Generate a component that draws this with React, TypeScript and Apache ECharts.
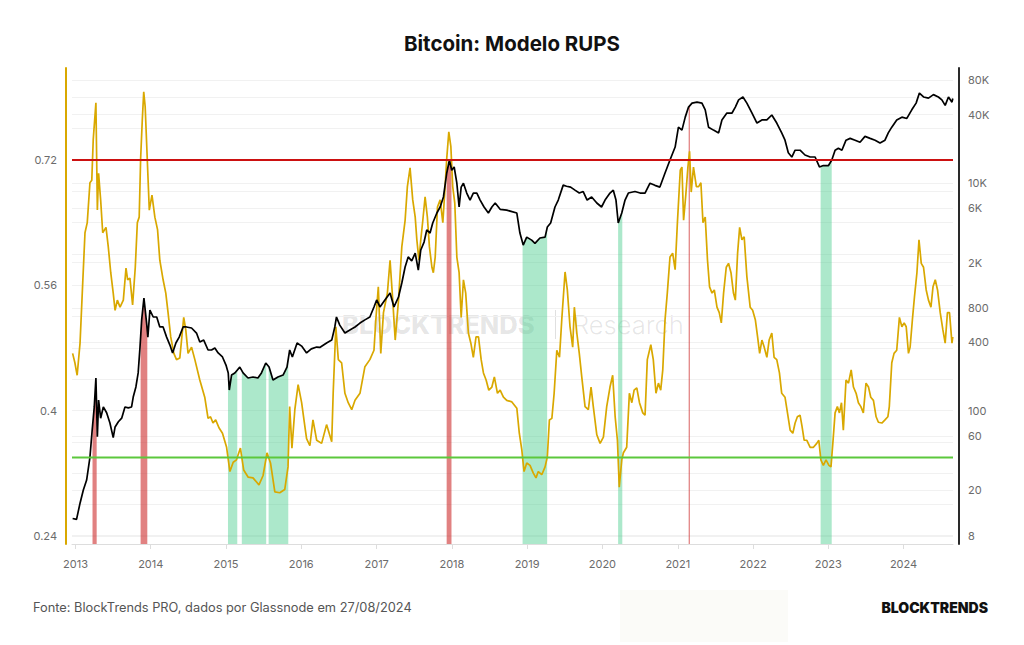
import React, { useEffect, useRef } from 'react';
import * as echarts from 'echarts';

type Point = [string, number];

// RUPS ratio (left axis)
const rupsSeries: Point[] = [
  ['2012-12-18', 0.473], ['2012-12-29', 0.461], ['2013-01-09', 0.445], ['2013-01-23', 0.486],
  ['2013-02-05', 0.563], ['2013-02-16', 0.627], ['2013-02-27', 0.64], ['2013-03-12', 0.691],
  ['2013-03-21', 0.694], ['2013-03-28', 0.746], ['2013-04-10', 0.793], ['2013-04-17', 0.656],
  ['2013-04-23', 0.703], ['2013-05-03', 0.669], ['2013-05-13', 0.627], ['2013-05-29', 0.634],
  ['2013-06-09', 0.609], ['2013-06-21', 0.576], ['2013-07-03', 0.55], ['2013-07-12', 0.528],
  ['2013-07-23', 0.541], ['2013-08-05', 0.532], ['2013-08-21', 0.541], ['2013-09-03', 0.582],
  ['2013-09-11', 0.567], ['2013-09-22', 0.569], ['2013-10-05', 0.535], ['2013-10-18', 0.583],
  ['2013-10-28', 0.64], ['2013-11-06', 0.647], ['2013-11-13', 0.722], ['2013-11-21', 0.771],
  ['2013-11-28', 0.807], ['2013-12-05', 0.788], ['2013-12-15', 0.722], ['2013-12-25', 0.656],
  ['2014-01-07', 0.675], ['2014-01-21', 0.647], ['2014-02-03', 0.631], ['2014-02-14', 0.592],
  ['2014-03-02', 0.567], ['2014-03-15', 0.55], ['2014-03-26', 0.525], ['2014-04-08', 0.494],
  ['2014-04-23', 0.473], ['2014-05-06', 0.465], ['2014-05-22', 0.467], ['2014-06-10', 0.519],
  ['2014-06-20', 0.503], ['2014-07-01', 0.473], ['2014-07-18', 0.481], ['2014-08-03', 0.465],
  ['2014-08-27', 0.439], ['2014-09-20', 0.417], ['2014-10-06', 0.39], ['2014-10-18', 0.392],
  ['2014-10-30', 0.384], ['2014-11-12', 0.388], ['2014-11-28', 0.378], ['2014-12-15', 0.371],
  ['2015-01-04', 0.353], ['2015-01-20', 0.322], ['2015-02-05', 0.334], ['2015-02-21', 0.337],
  ['2015-03-12', 0.352], ['2015-03-28', 0.324], ['2015-04-18', 0.315], ['2015-05-12', 0.314],
  ['2015-06-10', 0.305], ['2015-06-30', 0.317], ['2015-07-19', 0.346], ['2015-08-05', 0.333],
  ['2015-08-26', 0.296], ['2015-09-19', 0.295], ['2015-10-13', 0.299], ['2015-10-29', 0.328],
  ['2015-11-06', 0.405], ['2015-11-17', 0.352], ['2015-12-01', 0.401], ['2015-12-17', 0.433],
  ['2016-01-03', 0.41], ['2016-01-19', 0.379], ['2016-01-27', 0.364], ['2016-02-12', 0.355],
  ['2016-02-27', 0.388], ['2016-03-16', 0.362], ['2016-04-09', 0.358], ['2016-05-03', 0.382],
  ['2016-05-28', 0.36], ['2016-06-04', 0.422], ['2016-06-17', 0.507], ['2016-06-29', 0.465],
  ['2016-07-15', 0.461], ['2016-07-31', 0.422], ['2016-08-16', 0.41], ['2016-09-02', 0.401],
  ['2016-09-18', 0.413], ['2016-10-12', 0.422], ['2016-11-05', 0.456], ['2016-11-29', 0.465],
  ['2016-12-19', 0.477], ['2016-12-28', 0.516],
  ['2017-01-09', 0.558], ['2017-01-21', 0.473], ['2017-02-03', 0.525], ['2017-02-22', 0.55],
  ['2017-03-07', 0.592], ['2017-03-20', 0.541], ['2017-04-01', 0.49], ['2017-04-17', 0.541],
  ['2017-05-03', 0.609], ['2017-05-19', 0.643], ['2017-05-30', 0.686], ['2017-06-12', 0.71],
  ['2017-06-25', 0.669], ['2017-07-07', 0.647], ['2017-07-15', 0.618], ['2017-07-25', 0.592],
  ['2017-08-03', 0.618], ['2017-08-13', 0.643], ['2017-08-24', 0.673], ['2017-09-04', 0.647],
  ['2017-09-14', 0.609], ['2017-09-26', 0.583], ['2017-10-03', 0.576], ['2017-10-12', 0.596],
  ['2017-10-23', 0.66], ['2017-11-05', 0.669], ['2017-11-18', 0.64], ['2017-11-29', 0.686],
  ['2017-12-07', 0.722], ['2017-12-17', 0.756], ['2017-12-27', 0.737],
  ['2018-01-05', 0.686], ['2018-01-15', 0.665], ['2018-01-25', 0.596], ['2018-02-05', 0.576],
  ['2018-02-15', 0.519], ['2018-02-26', 0.567], ['2018-03-09', 0.55], ['2018-03-22', 0.499],
  ['2018-04-03', 0.486], ['2018-04-15', 0.468], ['2018-04-28', 0.494], ['2018-05-10', 0.494],
  ['2018-05-23', 0.465], ['2018-06-03', 0.448], ['2018-06-16', 0.439], ['2018-06-29', 0.426],
  ['2018-07-14', 0.43], ['2018-07-26', 0.443], ['2018-08-10', 0.422], ['2018-08-23', 0.426],
  ['2018-09-08', 0.417], ['2018-09-24', 0.413], ['2018-10-19', 0.411], ['2018-11-12', 0.403],
  ['2018-11-24', 0.371], ['2018-12-06', 0.35], ['2018-12-17', 0.322], ['2018-12-30', 0.333],
  ['2019-01-15', 0.33], ['2019-01-31', 0.32], ['2019-02-13', 0.314], ['2019-02-24', 0.322],
  ['2019-03-13', 0.318], ['2019-03-29', 0.328], ['2019-04-09', 0.341], ['2019-04-19', 0.388],
  ['2019-05-01', 0.39], ['2019-05-12', 0.422], ['2019-05-25', 0.477], ['2019-06-07', 0.468],
  ['2019-06-18', 0.516], ['2019-07-04', 0.577], ['2019-07-15', 0.554], ['2019-07-28', 0.507],
  ['2019-08-10', 0.481], ['2019-08-18', 0.532], ['2019-08-30', 0.499], ['2019-09-11', 0.473],
  ['2019-09-23', 0.443], ['2019-10-09', 0.405], ['2019-10-25', 0.401], ['2019-11-07', 0.43],
  ['2019-11-18', 0.405], ['2019-12-05', 0.369], ['2019-12-21', 0.358],
  ['2020-01-06', 0.366], ['2020-01-22', 0.405], ['2020-02-07', 0.43], ['2020-02-20', 0.445],
  ['2020-03-03', 0.392], ['2020-03-14', 0.362], ['2020-03-23', 0.302], ['2020-04-04', 0.337],
  ['2020-04-12', 0.346], ['2020-04-28', 0.353], ['2020-05-11', 0.422], ['2020-05-23', 0.41],
  ['2020-06-03', 0.426], ['2020-06-16', 0.429], ['2020-06-29', 0.41], ['2020-07-15', 0.397],
  ['2020-07-26', 0.394], ['2020-08-06', 0.465], ['2020-08-23', 0.484], ['2020-09-04', 0.465],
  ['2020-09-17', 0.422], ['2020-09-29', 0.435], ['2020-10-10', 0.426], ['2020-10-20', 0.452],
  ['2020-10-31', 0.516], ['2020-11-11', 0.55], ['2020-11-24', 0.596], ['2020-12-07', 0.601],
  ['2020-12-19', 0.58], ['2020-12-30', 0.64],
  ['2021-01-13', 0.707], ['2021-01-21', 0.711], ['2021-01-29', 0.643], ['2021-02-08', 0.673],
  ['2021-02-19', 0.711], ['2021-02-27', 0.731], ['2021-03-07', 0.679], ['2021-03-18', 0.711],
  ['2021-04-01', 0.686], ['2021-04-12', 0.686], ['2021-04-23', 0.691], ['2021-05-03', 0.64],
  ['2021-05-14', 0.647], ['2021-05-25', 0.592], ['2021-06-04', 0.558], ['2021-06-16', 0.55],
  ['2021-06-27', 0.554], ['2021-07-10', 0.532], ['2021-07-21', 0.525], ['2021-07-31', 0.512],
  ['2021-08-11', 0.55], ['2021-08-24', 0.583], ['2021-09-04', 0.588], ['2021-09-16', 0.576],
  ['2021-09-28', 0.55], ['2021-10-07', 0.541], ['2021-10-18', 0.601], ['2021-10-28', 0.634],
  ['2021-11-08', 0.618], ['2021-11-19', 0.622], ['2021-12-02', 0.571], ['2021-12-18', 0.532],
  ['2021-12-30', 0.528],
  ['2022-01-12', 0.516], ['2022-01-23', 0.494], ['2022-02-02', 0.473], ['2022-02-13', 0.49],
  ['2022-02-24', 0.481], ['2022-03-09', 0.468], ['2022-03-20', 0.49], ['2022-04-02', 0.499],
  ['2022-04-13', 0.468], ['2022-04-26', 0.465], ['2022-05-09', 0.448], ['2022-05-20', 0.422],
  ['2022-06-05', 0.417], ['2022-06-17', 0.397], ['2022-06-30', 0.375], ['2022-07-13', 0.371],
  ['2022-07-24', 0.384], ['2022-08-04', 0.392], ['2022-08-17', 0.394], ['2022-08-27', 0.379],
  ['2022-09-06', 0.362], ['2022-09-19', 0.362], ['2022-10-05', 0.353], ['2022-10-21', 0.353],
  ['2022-11-06', 0.358], ['2022-11-16', 0.362], ['2022-11-26', 0.337], ['2022-12-08', 0.33],
  ['2022-12-21', 0.337],
  ['2023-01-04', 0.33], ['2023-01-14', 0.328], ['2023-01-23', 0.358], ['2023-02-03', 0.397],
  ['2023-02-14', 0.405], ['2023-02-24', 0.397], ['2023-03-06', 0.41], ['2023-03-15', 0.375],
  ['2023-03-28', 0.439], ['2023-04-09', 0.435], ['2023-04-22', 0.452], ['2023-05-03', 0.43],
  ['2023-05-16', 0.422], ['2023-05-27', 0.41], ['2023-06-08', 0.405], ['2023-06-20', 0.397],
  ['2023-07-03', 0.435], ['2023-07-15', 0.43], ['2023-07-26', 0.417], ['2023-08-08', 0.413],
  ['2023-08-21', 0.392], ['2023-09-01', 0.385], ['2023-09-18', 0.384], ['2023-10-03', 0.388],
  ['2023-10-17', 0.392], ['2023-10-24', 0.405], ['2023-11-05', 0.461], ['2023-11-16', 0.473],
  ['2023-11-29', 0.477], ['2023-12-12', 0.519], ['2023-12-24', 0.507],
  ['2024-01-04', 0.512], ['2024-01-14', 0.507], ['2024-01-25', 0.473], ['2024-02-02', 0.481],
  ['2024-02-13', 0.516], ['2024-02-23', 0.545], ['2024-03-06', 0.576], ['2024-03-16', 0.618],
  ['2024-03-27', 0.588], ['2024-04-07', 0.583], ['2024-04-20', 0.554], ['2024-05-01', 0.541],
  ['2024-05-13', 0.532], ['2024-05-23', 0.558], ['2024-06-03', 0.567], ['2024-06-14', 0.554],
  ['2024-06-27', 0.525], ['2024-07-10', 0.503], ['2024-07-21', 0.486], ['2024-08-01', 0.525],
  ['2024-08-11', 0.525], ['2024-08-23', 0.486], ['2024-08-27', 0.494],
];

// BTC price in USD (right axis, log scale)
const priceSeries: Point[] = [
  ['2012-12-18', 11.3], ['2013-01-06', 11.1], ['2013-01-23', 15.4], ['2013-02-08', 20.1],
  ['2013-02-24', 24.6], ['2013-03-12', 39], ['2013-03-23', 68], ['2013-04-02', 108],
  ['2013-04-10', 194], ['2013-04-17', 59], ['2013-04-23', 124], ['2013-05-03', 86],
  ['2013-05-16', 108], ['2013-06-01', 96], ['2013-06-17', 78], ['2013-07-03', 58],
  ['2013-07-12', 72], ['2013-07-28', 80], ['2013-08-13', 86], ['2013-08-29', 108],
  ['2013-09-14', 106], ['2013-09-30', 108], ['2013-10-08', 132], ['2013-10-21', 162],
  ['2013-11-01', 215], ['2013-11-10', 364], ['2013-11-18', 629], ['2013-11-29', 980],
  ['2013-12-12', 590], ['2013-12-18', 444], ['2013-12-28', 768],
  ['2014-01-13', 667], ['2014-01-30', 667], ['2014-02-14', 545], ['2014-03-02', 545],
  ['2014-03-19', 444], ['2014-04-04', 378], ['2014-04-17', 322], ['2014-05-03', 394],
  ['2014-05-19', 444], ['2014-06-07', 545], ['2014-06-23', 545], ['2014-07-18', 534],
  ['2014-08-11', 482], ['2014-08-27', 402], ['2014-09-15', 418], ['2014-10-06', 342],
  ['2014-10-23', 342], ['2014-11-08', 356], ['2014-11-24', 322], ['2014-12-15', 297],
  ['2015-01-01', 252], ['2015-01-12', 215], ['2015-01-17', 152], ['2015-01-28', 206],
  ['2015-02-13', 215], ['2015-03-09', 242], ['2015-03-25', 215], ['2015-04-18', 194],
  ['2015-05-12', 198], ['2015-06-05', 194], ['2015-06-22', 215], ['2015-07-13', 263],
  ['2015-07-29', 242], ['2015-08-17', 186], ['2015-09-10', 198], ['2015-10-05', 206],
  ['2015-10-24', 242], ['2015-11-06', 342], ['2015-11-19', 297], ['2015-12-12', 394],
  ['2016-01-03', 370], ['2016-01-27', 322], ['2016-02-19', 350], ['2016-03-16', 363],
  ['2016-03-31', 360], ['2016-05-03', 394], ['2016-05-28', 418], ['2016-06-12', 545],
  ['2016-06-20', 667], ['2016-07-06', 566], ['2016-07-31', 482], ['2016-08-24', 513],
  ['2016-09-18', 545], ['2016-10-12', 590], ['2016-11-05', 629], ['2016-11-29', 667],
  ['2016-12-19', 817],
  ['2017-01-01', 942], ['2017-01-17', 817], ['2017-02-10', 942], ['2017-03-07', 1085],
  ['2017-03-26', 817], ['2017-04-17', 1000], ['2017-05-03', 1327], ['2017-05-19', 1835],
  ['2017-06-03', 2250], ['2017-06-20', 2075], ['2017-07-07', 2430], ['2017-07-22', 1720],
  ['2017-08-03', 2590], ['2017-08-19', 3040], ['2017-09-01', 3880], ['2017-09-17', 3650],
  ['2017-09-30', 4470], ['2017-10-20', 5470], ['2017-11-05', 6180], ['2017-11-21', 7570],
  ['2017-12-07', 12300], ['2017-12-20', 16000], ['2017-12-31', 13000],
  ['2018-01-12', 13900], ['2018-01-25', 10000], ['2018-02-05', 6180], ['2018-02-15', 9250],
  ['2018-02-26', 10000], ['2018-03-14', 8200], ['2018-03-30', 7110], ['2018-04-15', 8200],
  ['2018-05-02', 8200], ['2018-05-18', 7110], ['2018-06-06', 6180], ['2018-06-27', 5470],
  ['2018-07-14', 6180], ['2018-07-30', 6700], ['2018-08-23', 5900], ['2018-09-24', 5800],
  ['2018-11-12', 5470], ['2018-11-27', 3650], ['2018-12-13', 2860], ['2018-12-30', 3360],
  ['2019-01-23', 3160], ['2019-02-08', 2960], ['2019-03-04', 3300], ['2019-03-29', 3360],
  ['2019-04-09', 4120], ['2019-04-25', 4470], ['2019-05-16', 6180], ['2019-06-01', 7110],
  ['2019-06-25', 9620], ['2019-07-11', 9400], ['2019-07-31', 9250], ['2019-08-21', 8690],
  ['2019-09-11', 8200], ['2019-09-30', 8450], ['2019-10-19', 7110], ['2019-11-10', 7570],
  ['2019-12-05', 6700], ['2019-12-28', 6180],
  ['2020-01-14', 7110], ['2020-02-07', 8200], ['2020-02-23', 8690], ['2020-03-07', 7110],
  ['2020-03-18', 4470], ['2020-04-04', 5470], ['2020-04-20', 7110], ['2020-05-06', 8200],
  ['2020-06-07', 8450], ['2020-07-02', 8200], ['2020-07-26', 8200], ['2020-08-19', 10000],
  ['2020-09-12', 9580], ['2020-10-06', 9250], ['2020-10-31', 12300], ['2020-11-24', 16000],
  ['2020-12-19', 20800],
  ['2021-01-04', 31100], ['2021-01-21', 29300], ['2021-02-06', 38100], ['2021-02-22', 46700],
  ['2021-03-11', 50600], ['2021-04-04', 51600], ['2021-04-28', 50600], ['2021-05-14', 44200],
  ['2021-05-30', 31100], ['2021-06-23', 29300], ['2021-07-18', 27700], ['2021-08-03', 36000],
  ['2021-08-27', 41400], ['2021-09-21', 41400], ['2021-10-07', 46700], ['2021-10-23', 54000],
  ['2021-11-13', 57300], ['2021-12-02', 50600], ['2021-12-27', 41400],
  ['2022-01-20', 33800], ['2022-02-13', 36000], ['2022-03-09', 36000], ['2022-04-02', 39800],
  ['2022-04-26', 33800], ['2022-05-20', 27700], ['2022-06-05', 23900], ['2022-06-21', 18500],
  ['2022-07-08', 17000], ['2022-07-24', 19500], ['2022-08-17', 19500], ['2022-09-10', 17700],
  ['2022-10-05', 17000], ['2022-10-29', 17000], ['2022-11-19', 13900], ['2022-12-08', 14300],
  ['2023-01-02', 14300], ['2023-01-18', 16000], ['2023-02-03', 19500], ['2023-02-19', 20300],
  ['2023-03-08', 19500], ['2023-03-28', 23900], ['2023-04-17', 24800], ['2023-05-11', 23900],
  ['2023-06-04', 22900], ['2023-06-28', 25800], ['2023-07-23', 24800], ['2023-08-16', 23900],
  ['2023-09-09', 22600], ['2023-10-03', 23900], ['2023-10-19', 27700], ['2023-11-05', 31100],
  ['2023-11-29', 36000], ['2023-12-24', 38100],
  ['2024-01-17', 37100], ['2024-02-10', 44200], ['2024-03-02', 50600], ['2024-03-18', 62000],
  ['2024-04-07', 57300], ['2024-05-01', 56000], ['2024-05-25', 60100], ['2024-06-18', 57300],
  ['2024-07-05', 54000], ['2024-07-21', 48300], ['2024-08-06', 57300], ['2024-08-23', 51600],
  ['2024-08-27', 55500],
];

// Signal levels for the ratio
const RED_LEVEL = 0.72;
const GREEN_LEVEL = 0.34;

const X_START = '2012-12-15';
const X_END = '2024-08-28';

const yearTicks = [
  '2013-01-01', '2014-01-01', '2015-01-01', '2016-01-01', '2017-01-01', '2018-01-01',
  '2019-01-01', '2020-01-01', '2021-01-01', '2022-01-01', '2023-01-01', '2024-01-01',
];
const rupsTickLabels = [0.24, 0.4, 0.56, 0.72];
const rupsGridLevels = [0.24, 0.28, 0.32, 0.36, 0.4, 0.44, 0.48, 0.52, 0.56, 0.6, 0.64, 0.68, 0.72, 0.76, 0.8];
const priceTickLabels = [8, 20, 60, 100, 400, 800, 2000, 6000, 10000, 40000, 80000];

const RUPS_MIN = 0.2295;
const RUPS_MAX = 0.8375;
const PRICE_MIN = 6.74;
const PRICE_MAX = 103000;

const FONT = 'Inter, "Noto Sans", sans-serif';

const ts = (d: string) => echarts.time.parse(d).getTime();

// Time spans where the ratio sits beyond a level, with edges at the crossings.
function levelZones(level: number, above: boolean): [number, number][] {
  const pts = rupsSeries.map(([d, v]) => [ts(d), v] as [number, number]);
  const cross = (a: [number, number], b: [number, number]) =>
    a[0] + ((level - a[1]) / (b[1] - a[1])) * (b[0] - a[0]);
  const zones: [number, number][] = [];
  let start: number | null = null;
  for (let i = 0; i < pts.length; i++) {
    const inside = above ? pts[i][1] > level : pts[i][1] < level;
    if (inside && start === null) {
      start = i === 0 ? pts[i][0] : cross(pts[i - 1], pts[i]);
    } else if (!inside && start !== null) {
      zones.push([start, cross(pts[i - 1], pts[i])]);
      start = null;
    }
  }
  if (start !== null) zones.push([start, pts[pts.length - 1][0]]);
  return zones;
}

function formatPrice(v: number): string {
  const p = Math.round(Math.pow(10, v));
  return p >= 1000 ? `${Math.round(p / 1000)}K` : String(p);
}

export default function App() {
  const ref = useRef<HTMLDivElement>(null);

  useEffect(() => {
    if (!ref.current) return;
    const chart = echarts.init(ref.current, undefined, { renderer: 'svg' });

    const rupsData = rupsSeries.map(([d, v]) => [ts(d), v]);
    const priceData = priceSeries.map(([d, p]) => [ts(d), Math.log10(p)]);
    const yearValues = yearTicks.map(ts);

    // The area under the price line, cut to each zone's time span.
    const zoneSeries = (name: string, zones: [number, number][], fill: string) => ({
      name,
      type: 'custom',
      yAxisIndex: 1,
      data: zones,
      encode: { x: [0, 1] },
      silent: true,
      z: 1,
      renderItem: (params: any, api: any) => {
        const cs = params.coordSys;
        const bottom = cs.y + cs.height;
        const line = priceData.map((p) => api.coord(p));
        const points = [[line[0][0], bottom], ...line, [line[line.length - 1][0], bottom]];
        const x0 = api.coord([api.value(0), 1])[0];
        const x1 = api.coord([api.value(1), 1])[0];
        return {
          type: 'polygon',
          shape: { points },
          style: { fill },
          clipPath: { type: 'rect', shape: { x: x0, y: cs.y, width: x1 - x0, height: cs.height } },
        };
      },
    });

    const axisLabelBase = {
      color: '#6b6b6b',
      fontSize: 11,
      fontFamily: FONT,
    };

    chart.setOption({
      animation: false,
      backgroundColor: '#ffffff',
      textStyle: { fontFamily: FONT },
      title: {
        text: 'Bitcoin: Modelo RUPS',
        left: 'center',
        top: 28,
        textStyle: { fontSize: 20.5, fontWeight: 700, color: '#111111', fontFamily: FONT },
      },
      grid: { left: 72, right: 71, top: 68, bottom: 101, containLabel: false },
      xAxis: {
        type: 'value',
        min: ts(X_START),
        max: ts(X_END),
        axisLine: { show: true, lineStyle: { color: '#dddddd', width: 1 } },
        axisTick: { show: true, customValues: yearValues, length: 5, lineStyle: { color: '#dddddd' } },
        axisLabel: {
          ...axisLabelBase,
          customValues: yearValues,
          formatter: (v: number) => String(new Date(v).getFullYear()),
          margin: 14,
        },
        splitLine: { show: false },
      },
      yAxis: [
        {
          type: 'value',
          position: 'left',
          min: RUPS_MIN,
          max: RUPS_MAX,
          offset: 6,
          axisLine: { show: true, lineStyle: { color: '#d9a800', width: 2 } },
          axisTick: { show: false, customValues: rupsGridLevels },
          axisLabel: {
            ...axisLabelBase,
            customValues: rupsTickLabels,
            formatter: (v: number) => String(Number(v.toFixed(2))),
            margin: 9,
          },
          splitLine: { show: true, lineStyle: { color: '#f1f1f1', width: 1 } },
        },
        {
          type: 'value',
          position: 'right',
          min: Math.log10(PRICE_MIN),
          max: Math.log10(PRICE_MAX),
          offset: 6,
          axisLine: { show: true, lineStyle: { color: '#2a2a2a', width: 2 } },
          axisTick: { show: false, customValues: priceTickLabels.map((p) => Math.log10(p)) },
          axisLabel: {
            ...axisLabelBase,
            customValues: priceTickLabels.map((p) => Math.log10(p)),
            formatter: formatPrice,
            margin: 9,
          },
          splitLine: { show: true, lineStyle: { color: '#f1f1f1', width: 1 } },
        },
      ],
      graphic: [
        {
          type: 'rect',
          silent: true,
          z: -10,
          shape: { x: 620, y: 590, width: 168, height: 52 },
          style: { fill: '#fbfbf8' },
        },
        {
          type: 'text',
          silent: true,
          z: -10,
          x: 342,
          y: 324,
          style: {
            text: 'BLOCKTRENDS',
            fontFamily: FONT,
            fontSize: 25.5,
            fontWeight: 800,
            fill: 'rgba(0,0,0,0.11)',
            verticalAlign: 'middle',
          },
        },
        {
          type: 'rect',
          silent: true,
          z: -10,
          shape: { x: 555, y: 310, width: 1, height: 29 },
          style: { fill: 'rgba(0,0,0,0.12)' },
        },
        {
          type: 'text',
          silent: true,
          z: -10,
          x: 573,
          y: 324,
          style: {
            text: 'Research',
            fontFamily: FONT,
            fontSize: 25.5,
            fontWeight: 300,
            fill: 'rgba(0,0,0,0.1)',
            verticalAlign: 'middle',
          },
        },
        {
          type: 'text',
          x: 33,
          y: 607,
          style: {
            text: 'Fonte: BlockTrends PRO, dados por Glassnode em 27/08/2024',
            fontFamily: FONT,
            fontSize: 12.8,
            fill: '#555555',
            verticalAlign: 'middle',
          },
        },
        {
          type: 'text',
          x: 988,
          y: 607,
          style: {
            text: 'BLOCKTRENDS',
            fontFamily: FONT,
            fontSize: 14,
            fontWeight: 900,
            fill: '#111111',
            align: 'right',
            verticalAlign: 'middle',
          },
        },
      ],
      series: [
        zoneSeries('Zona alta', levelZones(RED_LEVEL, true), 'rgba(205, 45, 45, 0.6)'),
        zoneSeries('Zona baixa', levelZones(GREEN_LEVEL, false), 'rgba(70, 205, 140, 0.45)'),
        {
          name: 'RUPS',
          type: 'line',
          yAxisIndex: 0,
          data: rupsData,
          showSymbol: false,
          color: '#d9a800',
          lineStyle: { color: '#d9a800', width: 1.7 },
          z: 3,
        },
        {
          name: 'Preço BTC',
          type: 'line',
          yAxisIndex: 1,
          data: priceData,
          showSymbol: false,
          color: '#000000',
          lineStyle: { color: '#000000', width: 1.7 },
          z: 4,
        },
        {
          name: 'Nível alto',
          type: 'line',
          yAxisIndex: 0,
          data: [[ts(X_START), RED_LEVEL], [ts(X_END), RED_LEVEL]],
          showSymbol: false,
          silent: true,
          lineStyle: { color: '#cc1111', width: 2 },
          z: 5,
        },
        {
          name: 'Nível baixo',
          type: 'line',
          yAxisIndex: 0,
          data: [[ts(X_START), GREEN_LEVEL], [ts(X_END), GREEN_LEVEL]],
          showSymbol: false,
          silent: true,
          lineStyle: { color: '#5cc83c', width: 2 },
          z: 5,
        },
      ],
    });

    return () => chart.dispose();
  }, []);

  return (
    <div
      ref={ref}
      style={{ position: 'fixed', left: 0, top: 0, width: 1024, height: 645, background: '#ffffff' }}
    />
  );
}
